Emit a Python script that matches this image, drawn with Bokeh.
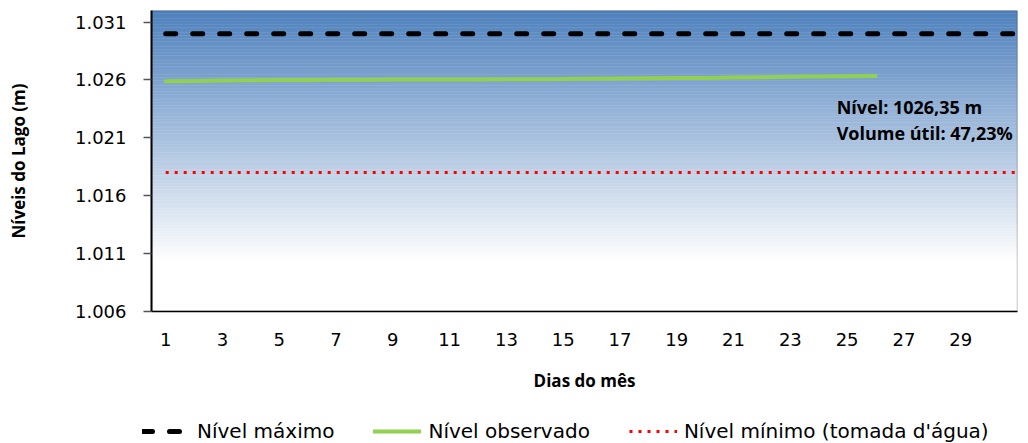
from bokeh.plotting import figure
from bokeh.layouts import column
from bokeh.models import (Range1d, FixedTicker, Label, Legend, LegendItem,
                          ColumnDataSource, BoxAnnotation)
from bokeh.embed import file_html
from bokeh.resources import INLINE
import numpy as np

# ---------------- data ----------------
dias = list(range(1, 32))
dias_observados = list(range(1, 27))
nivel_observado = [1025.88, 1025.92, 1025.95, 1025.97, 1025.99, 1026.00, 1026.01,
                   1026.02, 1026.03, 1026.03, 1026.04, 1026.05, 1026.06, 1026.07,
                   1026.08, 1026.10, 1026.12, 1026.14, 1026.16, 1026.18, 1026.21,
                   1026.24, 1026.27, 1026.30, 1026.33, 1026.35]
nivel_maximo = 1030.0
nivel_minimo = 1018.0

y_ticks = [1006, 1011, 1016, 1021, 1026, 1031]
y_tick_labels = ["1.006", "1.011", "1.016", "1.021", "1.026", "1.031"]
x_ticks = [1, 3, 5, 7, 9, 11, 13, 15, 17, 19, 21, 23, 25, 27, 29]
x_tick_labels = [str(d) for d in x_ticks]

serie_nomes = ["Nível máximo", "Nível observado", "Nível mínimo (tomada d'água)"]
anot_nivel = "Nível: 1026,35 m"
anot_volume = "Volume útil: 47,23%"
titulo_x = "Dias do mês"
titulo_y = "Níveis do Lago (m)"

# styles
estilo_max = dict(line_color="black", line_width=5, line_dash="10 17", line_cap="round")
estilo_obs = dict(line_color="#92D050", line_width=4, line_cap="round")
estilo_min = dict(line_color="#FF0000", line_width=3, line_dash="3 6")

# ---------------- main figure ----------------
X0, X1 = 0.5, 31.0
Y0, Y1 = 1006.0, 1032.0

p = figure(width=1028, height=400, x_range=Range1d(X0, X1), y_range=Range1d(Y0, Y1),
           output_backend="svg", toolbar_location=None,
           min_border_left=151, min_border_right=11, min_border_top=10, min_border_bottom=89)
p.background_fill_color = "white"
p.border_fill_color = "white"
p.grid.visible = False
p.outline_line_color = None

# gradient background (blue on top fading to white)
n_bands = 90
g_top, g_bot = Y1, 1010.3
edges = np.linspace(g_top, g_bot, n_bands + 1)
c0 = np.array([79, 129, 189])
c1 = np.array([255, 255, 255])
cols = []
for i in range(n_bands):
    t = (i + 0.5) / n_bands
    c = (c0 + (c1 - c0) * t).astype(int)
    cols.append("#%02x%02x%02x" % tuple(c))
bg = ColumnDataSource(dict(left=[X0] * n_bands, right=[X1] * n_bands,
                           top=list(edges[:-1]), bottom=list(edges[1:]), color=cols))
p.quad(left="left", right="right", top="top", bottom="bottom", fill_color="color",
       line_color="color", line_width=0.5, source=bg)

# frame border
p.add_layout(BoxAnnotation(fill_alpha=0, line_color="black", line_width=1.5))

# series
p.line([dias[0], dias[-1]], [nivel_maximo, nivel_maximo], **estilo_max)
p.line(dias_observados, nivel_observado, **estilo_obs)
p.line([dias[0], dias[-1]], [nivel_minimo, nivel_minimo], **estilo_min)

# axes
xa = p.xaxis[0]
xa.ticker = FixedTicker(ticks=x_ticks)
xa.major_label_overrides = {t: l for t, l in zip(x_ticks, x_tick_labels)}
xa.major_tick_out = 0
xa.major_tick_in = 0
xa.minor_tick_line_color = None
xa.major_label_standoff = 21
xa.major_label_text_font = "DejaVu Sans"
xa.major_label_text_font_size = "18px"
xa.major_label_text_color = "black"
xa.axis_line_color = "black"
xa.axis_line_width = 1.5
xa.axis_label = titulo_x
xa.axis_label_text_font = "Open Sans"
xa.axis_label_text_font_style = "bold"
xa.axis_label_text_font_size = "17px"
xa.axis_label_text_color = "black"
xa.axis_label_standoff = 20

ya = p.yaxis[0]
ya.ticker = FixedTicker(ticks=y_ticks)
ya.major_label_overrides = {t: l for t, l in zip(y_ticks, y_tick_labels)}
ya.major_tick_out = 8
ya.major_tick_in = 0
ya.major_tick_line_color = "#555555"
ya.major_tick_line_width = 1.5
ya.minor_tick_line_color = None
ya.major_label_standoff = 17
ya.major_label_text_font = "DejaVu Sans"
ya.major_label_text_font_size = "18px"
ya.major_label_text_color = "black"
ya.axis_line_color = "black"
ya.axis_line_width = 2
ya.axis_label = titulo_y
ya.axis_label_text_font = "Open Sans"
ya.axis_label_text_font_style = "bold"
ya.axis_label_text_font_size = "17px"
ya.axis_label_text_color = "black"
ya.axis_label_standoff = 42

# annotation
for txt, yv in [(anot_nivel, 1023.65), (anot_volume, 1021.40)]:
    p.add_layout(Label(x=24.63, y=yv, text=txt, text_font="Open Sans",
                       text_font_style="bold", text_font_size="18px",
                       text_color="black", text_baseline="alphabetic"))

# ---------------- legend strip ----------------
# same series drawn again in a strip whose ranges hide them; only the legend shows
pl = figure(width=1028, height=43, x_range=Range1d(0, 1), y_range=Range1d(0, 1),
            output_backend="svg", toolbar_location=None,
            min_border_left=0, min_border_right=0, min_border_top=0, min_border_bottom=0)
pl.axis.visible = False
pl.grid.visible = False
pl.outline_line_color = None
pl.background_fill_color = "white"
pl.border_fill_color = "white"
legend_x = -9
if "frame_align" in pl.properties():
    pl.frame_align = False
    legend_x = 142
l_max = pl.line([dias[0], dias[-1]], [nivel_maximo, nivel_maximo], **estilo_max)
l_obs = pl.line(dias_observados, nivel_observado, **estilo_obs)
l_min = pl.line([dias[0], dias[-1]], [nivel_minimo, nivel_minimo], **estilo_min)

legend = Legend(items=[LegendItem(label=serie_nomes[0], renderers=[l_max]),
                       LegendItem(label=serie_nomes[1], renderers=[l_obs]),
                       LegendItem(label=serie_nomes[2], renderers=[l_min])],
                orientation="horizontal", location=(legend_x, 0),
                label_text_font="DejaVu Sans", label_text_font_size="20px",
                label_text_color="black",
                glyph_width=48, glyph_height=20, label_height=20, label_standoff=7,
                spacing=39, padding=0, margin=0,
                border_line_alpha=0, background_fill_alpha=0)
pl.add_layout(legend, "center")

layout = column(p, pl, spacing=0)
open("out.html", "w").write(file_html(layout, INLINE))
